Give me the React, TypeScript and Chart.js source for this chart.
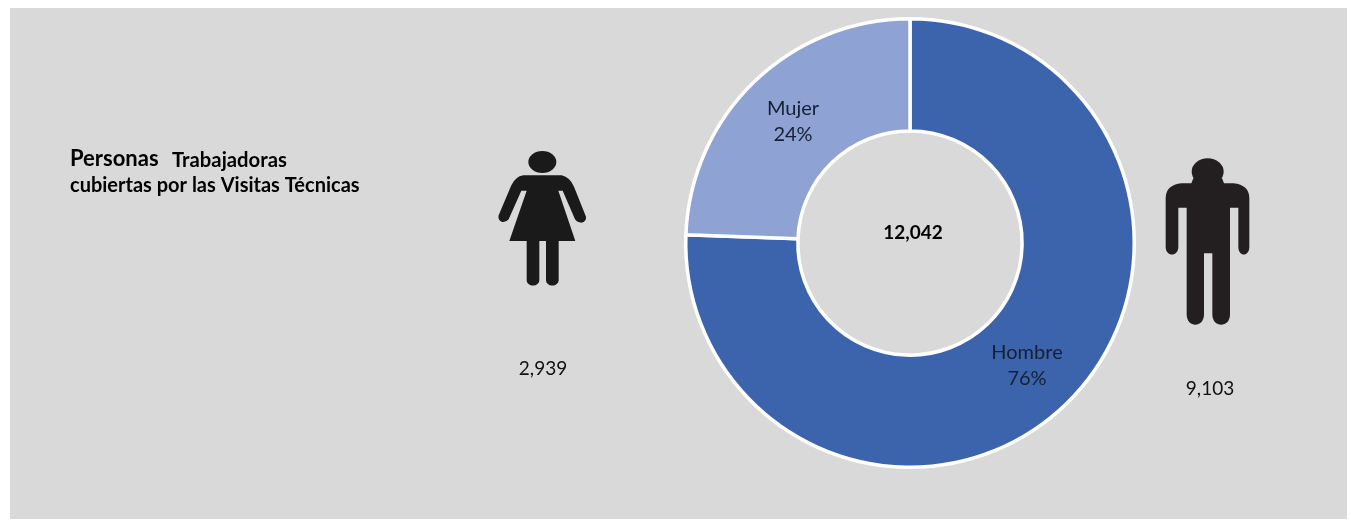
import React, { useEffect, useRef } from "react";
import { Chart, registerables } from "chart.js";

Chart.register(...registerables);

const categories = ["Hombre", "Mujer"];
const values = [9103, 2939];
const colors = ["#3B64AD", "#8FA2D4"];
const totalLabel = "12,042";
const valueLabels = ["9,103", "2,939"];

const FONT = "Lato, Carlito, sans-serif";

const overlay = {
  id: "overlay",
  afterDraw(chart: any) {
    const ctx: CanvasRenderingContext2D = chart.ctx;
    const total = values.reduce((a, b) => a + b, 0);
    ctx.save();

    // Category labels inside the slices
    ctx.textAlign = "center";
    ctx.textBaseline = "middle";
    ctx.fillStyle = "#162033";
    ctx.font = `20px ${FONT}`;
    const labelPos = [
      [1027, 353, 1027, 379],
      [793, 109, 793, 135],
    ];
    categories.forEach((c, i) => {
      const p = labelPos[i];
      ctx.fillText(c, p[0], p[1]);
      ctx.fillText(`${Math.round((values[i] / total) * 100)}%`, p[2], p[3]);
    });

    // Centre total
    ctx.fillStyle = "#000000";
    ctx.font = `bold 19px ${FONT}`;
    ctx.fillText(totalLabel, 913, 233);

    // Values under figures
    ctx.font = `19px ${FONT}`;
    ctx.fillStyle = "#111111";
    ctx.fillText(valueLabels[0], 1210, 389);
    ctx.fillText(valueLabels[1], 543, 369);

    // Title
    ctx.textAlign = "left";
    ctx.fillStyle = "#000000";
    ctx.font = `bold 22px ${FONT}`;
    ctx.fillText("Personas", 70, 159);
    ctx.font = `bold 20.3px ${FONT}`;
    ctx.fillText("Trabajadoras", 172, 160);
    ctx.font = `bold 20px ${FONT}`;
    ctx.fillText("cubiertas por las Visitas Técnicas", 70, 186);

    // Woman pictogram
    ctx.save();
    ctx.translate(480, 140);
    ctx.scale(1 / 3, 1 / 3);
    ctx.fillStyle = "#1A1A1A";
    ctx.beginPath();
    ctx.ellipse(187, 66, 42, 33, 0, 0, Math.PI * 2);
    ctx.fill();
    ctx.fill(
      new Path2D(
        "M130 106 L245 106 Q270 112 282 140 L318 230 Q320 244 304 248 Q292 248 285 238 L248 152 L235 152 L286 303 L236 303 L236 420 C236 442 198 442 198 420 L198 303 L178 303 L178 420 C178 442 140 442 140 420 L140 303 L88 303 L140 152 L124 152 L86 238 Q78 248 66 246 Q52 240 56 226 L94 136 Q106 110 130 106 Z"
      )
    );
    ctx.restore();

    // Man pictogram
    ctx.save();
    ctx.translate(1150, 145);
    ctx.scale(1 / 3, 1 / 3);
    ctx.fillStyle = "#231F20";
    ctx.beginPath();
    ctx.ellipse(173, 80, 48, 40, 0, 0, Math.PI * 2);
    ctx.fill();
    ctx.fill(
      new Path2D(
        "M130 100 L216 100 L222 115 L250 115 Q298 120 298 160 L298 305 C298 336 265 336 265 305 L265 188 L240 188 L240 508 C240 550 187 550 187 508 L187 325 L162 325 L162 508 C162 550 110 550 110 508 L110 188 L85 188 L85 305 C85 336 47 336 47 305 L47 160 Q47 120 95 115 L124 115 Z"
      )
    );
    ctx.restore();

    ctx.restore();
  },
};

export default function App() {
  const ref = useRef<HTMLCanvasElement>(null);
  useEffect(() => {
    if (!ref.current) return;
    const chart = new Chart(ref.current, {
      type: "doughnut",
      data: {
        labels: categories,
        datasets: [
          {
            data: values,
            backgroundColor: colors,
            borderColor: "#FFFFFF",
            borderWidth: 3.5,
            borderAlign: "center",
          } as any,
        ],
      },
      options: {
        responsive: false,
        animation: false,
        cutout: "50%",
        layout: { padding: { left: 684, right: 215, top: 17, bottom: 51 } },
        plugins: { legend: { display: false }, tooltip: { enabled: false }, title: { display: false } },
      },
      plugins: [overlay],
    });
    return () => chart.destroy();
  }, []);
  return (
    <div style={{ position: "fixed", left: 0, top: 0, width: 1351, height: 520, background: "#FFFFFF", overflow: "hidden" }}>
      <div style={{ position: "absolute", left: 10, top: 8, width: 1337, height: 511, background: "#D9D9D9" }} />
      <canvas ref={ref} width={1351} height={520} style={{ position: "absolute", left: 0, top: 0, width: 1351, height: 520 }} />
    </div>
  );
}
